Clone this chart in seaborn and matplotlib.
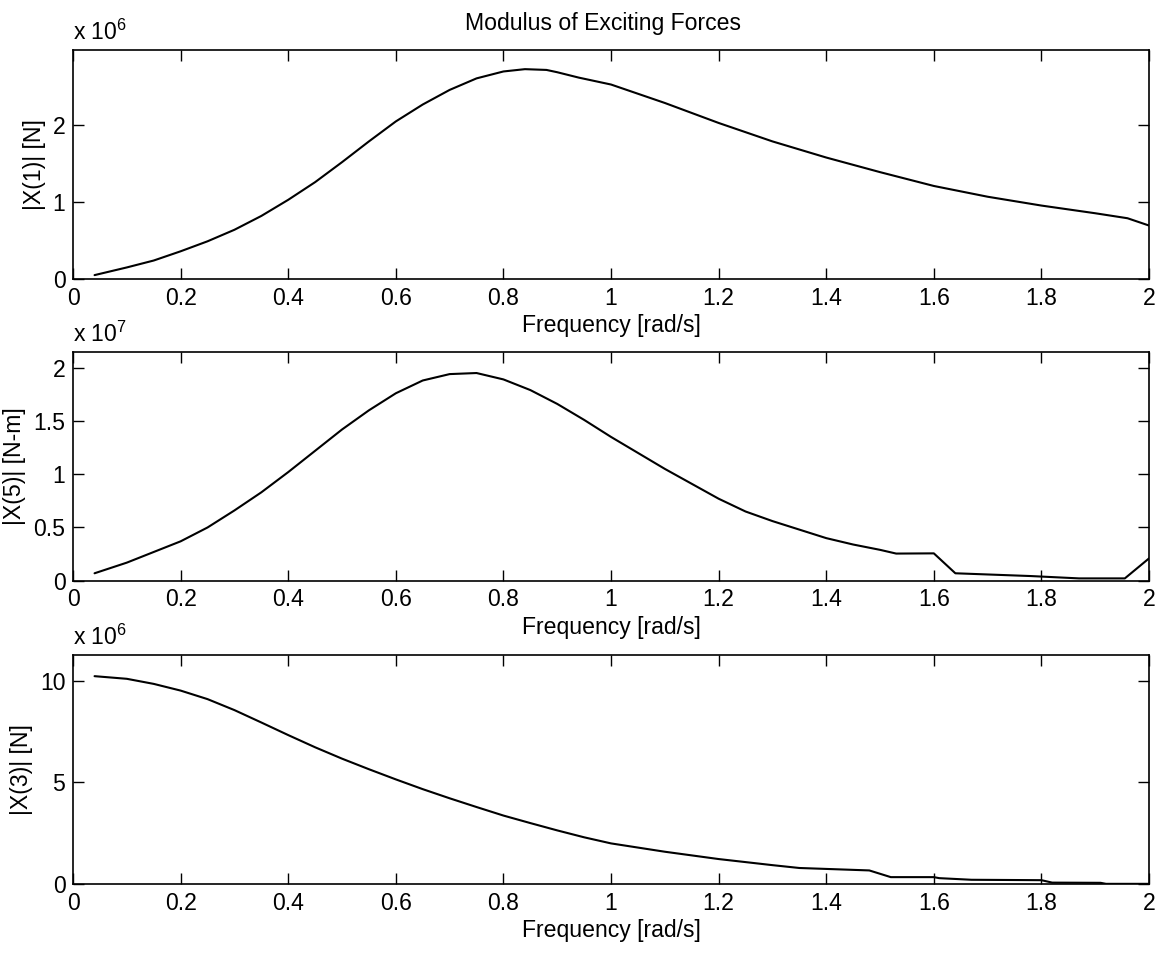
import numpy as np
import pandas as pd
import matplotlib
matplotlib.use("Agg")
import matplotlib.pyplot as plt
import seaborn as sns

# Frequency grids [rad/s] and force moduli for each mode
freq_surge = [0.04, 0.10, 0.15, 0.20, 0.25, 0.30, 0.35, 0.40, 0.45, 0.50, 0.55, 0.60,
              0.65, 0.70, 0.75, 0.80, 0.84, 0.88, 0.90, 0.94, 1.00, 1.10, 1.20, 1.30,
              1.40, 1.50, 1.60, 1.70, 1.80, 1.90, 1.96, 2.00]
surge_e6 = [0.05, 0.15, 0.24, 0.36, 0.49, 0.64, 0.82, 1.03, 1.26, 1.52, 1.79, 2.05,
            2.27, 2.46, 2.61, 2.70, 2.73, 2.72, 2.69, 2.62, 2.53, 2.29, 2.03, 1.79,
            1.58, 1.39, 1.21, 1.07, 0.955, 0.855, 0.79, 0.695]

freq_pitch = [0.04, 0.10, 0.15, 0.20, 0.25, 0.30, 0.35, 0.40, 0.45, 0.50, 0.55, 0.60,
              0.65, 0.70, 0.75, 0.80, 0.85, 0.90, 0.95, 1.00, 1.05, 1.10, 1.15, 1.20,
              1.25, 1.30, 1.35, 1.40, 1.45, 1.50, 1.53, 1.60, 1.64, 1.78, 1.87, 1.955, 2.00]
pitch_e7 = [0.07, 0.17, 0.27, 0.37, 0.50, 0.66, 0.83, 1.02, 1.22, 1.42, 1.60, 1.76,
            1.88, 1.94, 1.95, 1.89, 1.79, 1.66, 1.51, 1.35, 1.20, 1.05, 0.91, 0.77,
            0.65, 0.56, 0.48, 0.40, 0.34, 0.29, 0.255, 0.257, 0.07, 0.044, 0.022, 0.022, 0.21]

freq_heave = [0.04, 0.10, 0.15, 0.20, 0.25, 0.30, 0.35, 0.40, 0.45, 0.50, 0.55, 0.60,
              0.65, 0.70, 0.75, 0.80, 0.85, 0.90, 0.95, 1.00, 1.10, 1.20, 1.30, 1.35,
              1.48, 1.52, 1.60, 1.61, 1.67, 1.80, 1.82, 1.91, 1.92, 2.00]
heave_e6 = [10.23, 10.10, 9.85, 9.52, 9.10, 8.56, 7.95, 7.33, 6.73, 6.17, 5.65, 5.15,
            4.67, 4.22, 3.79, 3.37, 3.00, 2.64, 2.30, 2.00, 1.59, 1.23, 0.93, 0.79,
            0.67, 0.34, 0.34, 0.29, 0.21, 0.19, 0.07, 0.06, 0.01, 0.01]

x_ticks = [0, 0.2, 0.4, 0.6, 0.8, 1, 1.2, 1.4, 1.6, 1.8, 2]
x_tick_labels = ["0", "0.2", "0.4", "0.6", "0.8", "1", "1.2", "1.4", "1.6", "1.8", "2"]

sns.set_theme(style="white")
plt.rcParams["font.family"] = ["Liberation Sans", "DejaVu Sans"]
plt.rcParams["mathtext.fontset"] = "custom"
plt.rcParams["mathtext.rm"] = "Liberation Sans"
plt.rcParams["mathtext.it"] = "Liberation Sans"
FS = 16.6

fig = plt.figure(figsize=(11.63, 9.55), dpi=100)
fig.patch.set_facecolor("white")

panels = [
    (freq_surge, surge_e6, "|X(1)| [N]", (0, 2.98), [0, 1, 2], ["0", "1", "2"], 6),
    (freq_pitch, pitch_e7, "|X(5)| [N-m]", (0, 2.15), [0, 0.5, 1, 1.5, 2],
     ["0", "0.5", "1", "1.5", "2"], 7),
    (freq_heave, heave_e6, "|X(3)| [N]", (0, 11.27), [0, 5, 10], ["0", "5", "10"], 6),
]
bottoms = [0.7079, 0.3919, 0.0743]
left, width, height = 0.0628, 0.9252, 0.2398

for (fx, fy, ylab, ylim, yt, ytl, expo), b in zip(panels, bottoms):
    ax = fig.add_axes([left, b, width, height])
    df = pd.DataFrame({"freq": fx, "val": fy})
    sns.lineplot(data=df, x="freq", y="val", ax=ax, color="black", linewidth=1.5,
                 estimator=None, sort=False)
    ax.set_xlim(0, 2)
    ax.set_ylim(*ylim)
    ax.set_xticks(x_ticks)
    ax.set_xticklabels(x_tick_labels)
    ax.set_yticks(yt)
    ax.set_yticklabels(ytl)
    ax.tick_params(direction="in", length=7.7, width=1.0, labelsize=FS,
                   top=True, right=True, bottom=True, left=True, pad=5.5,
                   colors="black")
    for sp in ax.spines.values():
        sp.set_visible(True)
        sp.set_color("black")
        sp.set_linewidth(1.2)
    ax.set_xlabel("Frequency [rad/s]", fontsize=FS, color="black", labelpad=3)
    ax.set_ylabel(ylab, fontsize=FS, color="black", labelpad=5)
    ax.text(0.0, 1.0 + 10 / 229, r"x 10$^{%d}$" % expo, transform=ax.transAxes,
            ha="left", va="baseline", fontsize=FS, color="black")
    if b == bottoms[0]:
        ax.text(0.4926, 1.0 + 20 / 229, "Modulus of Exciting Forces",
                transform=ax.transAxes, ha="center", va="baseline",
                fontsize=FS, color="black")

fig.savefig("out.png", dpi=100, facecolor="white")
